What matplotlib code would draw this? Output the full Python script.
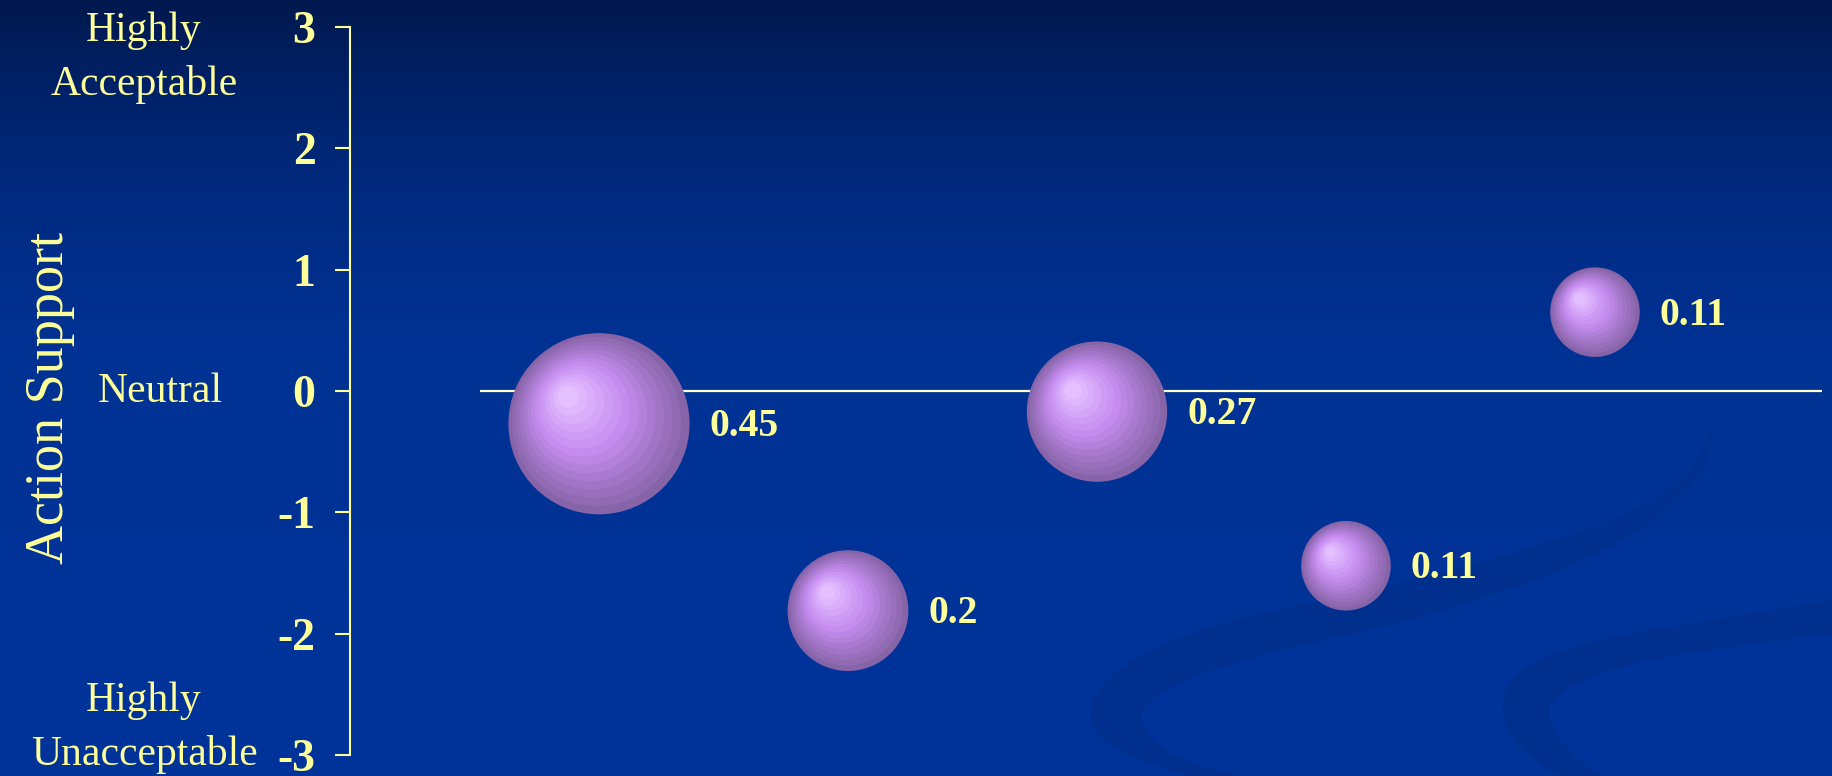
import numpy as np
import matplotlib
matplotlib.use("Agg")
import matplotlib.pyplot as plt
from matplotlib.path import Path
from matplotlib.patches import PathPatch
from matplotlib.transforms import offset_copy

# ---------------- data ----------------
x_pos = [1, 2, 3, 4, 5]
y_vals = [-0.27, -1.81, -0.17, -1.44, 0.65]
sizes = [0.45, 0.2, 0.27, 0.11, 0.11]
size_labels = ["0.45", "0.2", "0.27", "0.11", "0.11"]
ytick_vals = [-3, -2, -1, 0, 1, 2, 3]
ytick_labels = ["-3", "-2", "-1", "0", "1", "2", "3"]
side_labels = ["Highly\nAcceptable", "Neutral", "Highly\nUnacceptable"]
y_title = "Action Support"

W, H = 1832, 776
YEL = "#FFFF99"
SERIF = ["Liberation Serif", "DejaVu Serif"]

fig = plt.figure(figsize=(W / 100, H / 100), dpi=100)

# ---------------- background ----------------
bg = fig.add_axes([0, 0, 1, 1])
bg.set_xlim(0, W)
bg.set_ylim(H, 0)
bg.axis("off")
stops_y = np.array([0.0, 0.12, 0.25, 0.45, 1.0])
stops_c = np.array([[0, 24, 78], [0, 34, 105], [0, 42, 128], [0, 50, 148], [0, 52, 155]]) / 255.0
yy = np.linspace(0, 1, 400)
grad = np.stack([np.interp(yy, stops_y, stops_c[:, k]) for k in range(3)], axis=-1)
grad = np.repeat(grad[:, None, :], 2, axis=1)
bg.imshow(grad, extent=[0, W, H, 0], aspect="auto", zorder=0)

C4 = Path.CURVE4
sw1 = [(1190, 776), (1130, 760), (1085, 740), (1090, 712),
       (1095, 675), (1150, 640), (1250, 616),
       (1500, 560), (1700, 520), (1712, 425),
       (1722, 530), (1500, 600), (1350, 634),
       (1220, 662), (1140, 690), (1142, 718),
       (1145, 748), (1190, 766), (1240, 776), (1190, 776)]
codes1 = [Path.MOVETO] + [C4] * 18 + [Path.CLOSEPOLY]
bg.add_patch(PathPatch(Path(sw1, codes1), facecolor="#002f8e", edgecolor="none", zorder=1))
sw2 = [(1560, 776), (1520, 755), (1498, 728), (1503, 700),
       (1508, 665), (1560, 645), (1650, 630),
       (1720, 618), (1780, 608), (1832, 600),
       (1832, 634),
       (1760, 642), (1700, 650), (1640, 662),
       (1580, 678), (1545, 695), (1550, 715),
       (1555, 742), (1580, 765), (1605, 776), (1560, 776)]
codes2 = [Path.MOVETO] + [C4] * 9 + [Path.LINETO] + [C4] * 9 + [Path.CLOSEPOLY]
bg.add_patch(PathPatch(Path(sw2, codes2), facecolor="#002f8e", edgecolor="none", zorder=1))

# ---------------- main axes ----------------
ax = fig.add_axes([350 / W, 21 / H, 1 - 350 / W, 728 / H])
ax.set_facecolor("none")
ax.set_xlim(0, 5.952)
ax.set_ylim(-3, 3)
for s in ["top", "right", "bottom"]:
    ax.spines[s].set_visible(False)
ax.spines["left"].set_color(YEL)
ax.spines["left"].set_linewidth(1.5)
ax.set_xticks([])
ax.set_yticks(ytick_vals)
ax.set_yticklabels(ytick_labels, fontfamily=SERIF, fontweight="bold", fontsize=33, color=YEL)
ax.tick_params(axis="y", direction="out", length=10.8, width=1.5, color=YEL, pad=14)

ax.hlines(0, 0.522, 5.91, color="#FFFFCC", linewidth=1.6, zorder=2)

# bubbles with radial shading
c_edge = np.array([135, 100, 168]) / 255
c_mid = np.array([198, 140, 240]) / 255
c_hi = np.array([228, 192, 255]) / 255
N = 14
K = 37800.0
for xv, yv, sv, lab in zip(x_pos, y_vals, sizes, size_labels):
    s_full = K * sv
    r_pt = np.sqrt(s_full) / 2
    for k in range(N):
        t = k / (N - 1)
        f = 1 - 0.88 * t
        if t < 0.55:
            col = c_edge + (c_mid - c_edge) * (t / 0.55)
        else:
            col = c_mid + (c_hi - c_mid) * ((t - 0.55) / 0.45)
        tr = offset_copy(ax.transData, fig=fig, x=-0.34 * t * r_pt, y=0.30 * t * r_pt, units="points")
        ax.scatter([xv], [yv], s=s_full * f * f, color=[col], edgecolors="none",
                   transform=tr, zorder=3 + k * 0.01)
    ax.annotate(lab, xy=(xv, yv), xytext=(r_pt + 14.4, -9.0), textcoords="offset points",
                ha="left", va="baseline", fontfamily=SERIF, fontweight="bold",
                fontsize=28.5, color=YEL, zorder=5)

# ---------------- side texts ----------------
def fx(px):
    return px / W

def fy(py):
    return 1 - py / H

fig.text(fx(144), fy(95), side_labels[0], ha="center", va="baseline", multialignment="center",
         fontfamily=SERIF, fontsize=30, color=YEL, linespacing=1.5)
fig.text(fx(160), fy(402), side_labels[1], ha="center", va="baseline",
         fontfamily=SERIF, fontsize=30, color=YEL)
fig.text(fx(144), fy(765), side_labels[2], ha="center", va="baseline", multialignment="center",
         fontfamily=SERIF, fontsize=30, color=YEL, linespacing=1.5)
fig.text(fx(50), fy(398), y_title, rotation=90, ha="center", va="center",
         fontfamily=SERIF, fontsize=39, color=YEL)

fig.savefig("out.png", dpi=100)
